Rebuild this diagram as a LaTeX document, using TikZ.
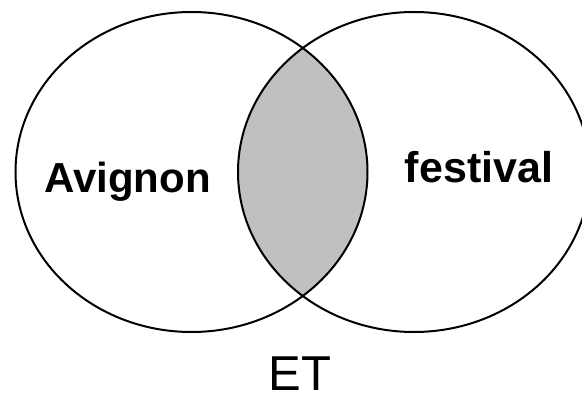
\documentclass[tikz,border=0pt]{standalone}
\usepackage{fontspec}
\setmainfont{Liberation Sans}
\usetikzlibrary{shapes.geometric}
\definecolor{lensgray}{HTML}{C0C0C0}
\tikzset{
  % mängder
  venn/.style={ellipse,draw=black,line width=2pt,inner sep=0pt,
               minimum width=352pt,minimum height=320pt},
  lbl/.style={font=\fontsize{42}{48}\selectfont\bfseries,anchor=base,inner sep=0pt},
  op/.style={font=\fontsize{49}{56}\selectfont,anchor=base,inner sep=0pt},
}
\begin{document}
\begin{tikzpicture}[x=1pt,y=1pt]
  \useasboundingbox (0,0) rectangle (582,397);
  \coordinate (ca) at (191.5,225);
  \coordinate (cf) at (414,225);
  % snittet
  \begin{scope}
    \clip (ca) ellipse [x radius=176pt,y radius=160pt];
    \fill[lensgray] (cf) ellipse [x radius=176pt,y radius=160pt];
  \end{scope}
  \node[venn] (A) at (ca) {};
  \node[venn] (F) at (cf) {};
  \node[lbl] (avig) at (127.5,204) {Avignon};
  \node[lbl,font=\fontsize{43}{48}\selectfont\bfseries] (fest) at (479,214) {festival};
  \node[op] (et) at (300,7) {ET};
\end{tikzpicture}
\end{document}
